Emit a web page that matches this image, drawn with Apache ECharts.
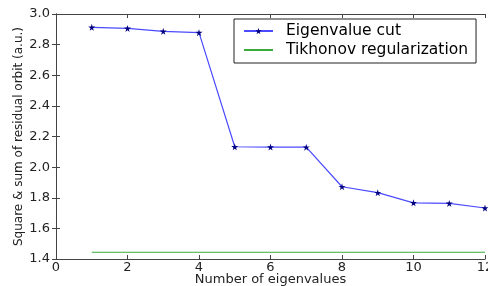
<!DOCTYPE html>
<html>
<head>
<meta charset="utf-8">
<script src="https://cdn.jsdelivr.net/npm/echarts@6/dist/echarts.min.js"></script>
<style>
  html, body { margin: 0; padding: 0; background: #fff; }
  #chart { width: 488px; height: 286px; }
</style>
</head>
<body>
<div id="chart"></div>
<script>
// values
const eigenCounts = [1, 2, 3, 4, 5, 6, 7, 8, 9, 10, 11, 12]
const eigenCut = [2.913, 2.906, 2.887, 2.878, 2.133, 2.131, 2.130, 1.872, 1.833, 1.767, 1.763, 1.733]
const tikhonovX = [1, 12]
const tikhonovY = [1.444, 1.444]

const STAR = 'path://M50,0 L61,35 L98,35 L68,57 L79,91 L50,70 L21,91 L32,57 L2,35 L39,35 Z'
const font = 'DejaVu Sans'
const axisColor = '#444'

const chart = echarts.init(document.getElementById('chart'))

const tickStyle = { inside: true, length: 4, lineStyle: { color: axisColor } }
const lineStyle = { show: true, lineStyle: { color: axisColor, width: 1 } }

chart.setOption({
  animation: false,
  grid: { left: 56, right: 3, top: 14, bottom: 27, outerBoundsMode: 'none' },
  legend: {
    orient: 'vertical',
    left: 234,
    top: 19,
    padding: [4, 8, 5, 9],
    itemGap: 3,
    itemWidth: 29,
    itemHeight: 8,
    borderColor: '#222',
    borderWidth: 1,
    textStyle: { fontFamily: font, fontSize: 15.5, color: '#000', padding: [0, 0, 0, 8] },
    data: [
      { name: 'Eigenvalue cut' },
      { name: 'Tikhonov regularization', itemStyle: { opacity: 0 } }
    ]
  },
  xAxis: [
    {
      type: 'value', min: 0, max: 12, interval: 2,
      name: 'Number of eigenvalues', nameLocation: 'middle', nameGap: 14, nameMoveOverlap: false,
      nameTextStyle: { fontFamily: font, fontSize: 13, color: '#222' },
      axisLine: lineStyle, axisTick: tickStyle,
      axisLabel: { fontFamily: font, fontSize: 13, color: '#222', margin: 2 },
      splitLine: { show: false }
    },
    {
      type: 'value', min: 0, max: 12, interval: 2, position: 'top',
      axisLine: lineStyle, axisTick: tickStyle,
      axisLabel: { show: false }, splitLine: { show: false }
    }
  ],
  yAxis: [
    {
      type: 'value', min: 1.4, max: 3.0, interval: 0.2,
      name: 'Square & sum of residual orbit (a.u.)', nameLocation: 'middle', nameGap: 31, nameMoveOverlap: false,
      nameTextStyle: { fontFamily: font, fontSize: 12, color: '#222' },
      axisLine: lineStyle, axisTick: tickStyle,
      axisLabel: { fontFamily: font, fontSize: 13, color: '#222', margin: 6, formatter: (v) => v.toFixed(1) },
      splitLine: { show: false }
    },
    {
      type: 'value', min: 1.4, max: 3.0, interval: 0.2, position: 'right',
      axisLine: lineStyle, axisTick: tickStyle,
      axisLabel: { show: false }, splitLine: { show: false }
    }
  ],
  series: [
    {
      name: 'Eigenvalue cut',
      type: 'line',
      data: eigenCounts.map((x, i) => [x, eigenCut[i]]),
      symbol: STAR,
      symbolSize: 7,
      itemStyle: { color: '#000080', borderWidth: 0 },
      lineStyle: { color: '#4a4aff', width: 1.2 }
    },
    {
      name: 'Tikhonov regularization',
      type: 'line',
      data: tikhonovX.map((x, i) => [x, tikhonovY[i]]),
      showSymbol: false,
      symbol: 'none',
      itemStyle: { color: '#3aaa3a' },
      lineStyle: { color: '#3aaa3a', width: 1.2 }
    }
  ]
})
</script>
</body>
</html>
